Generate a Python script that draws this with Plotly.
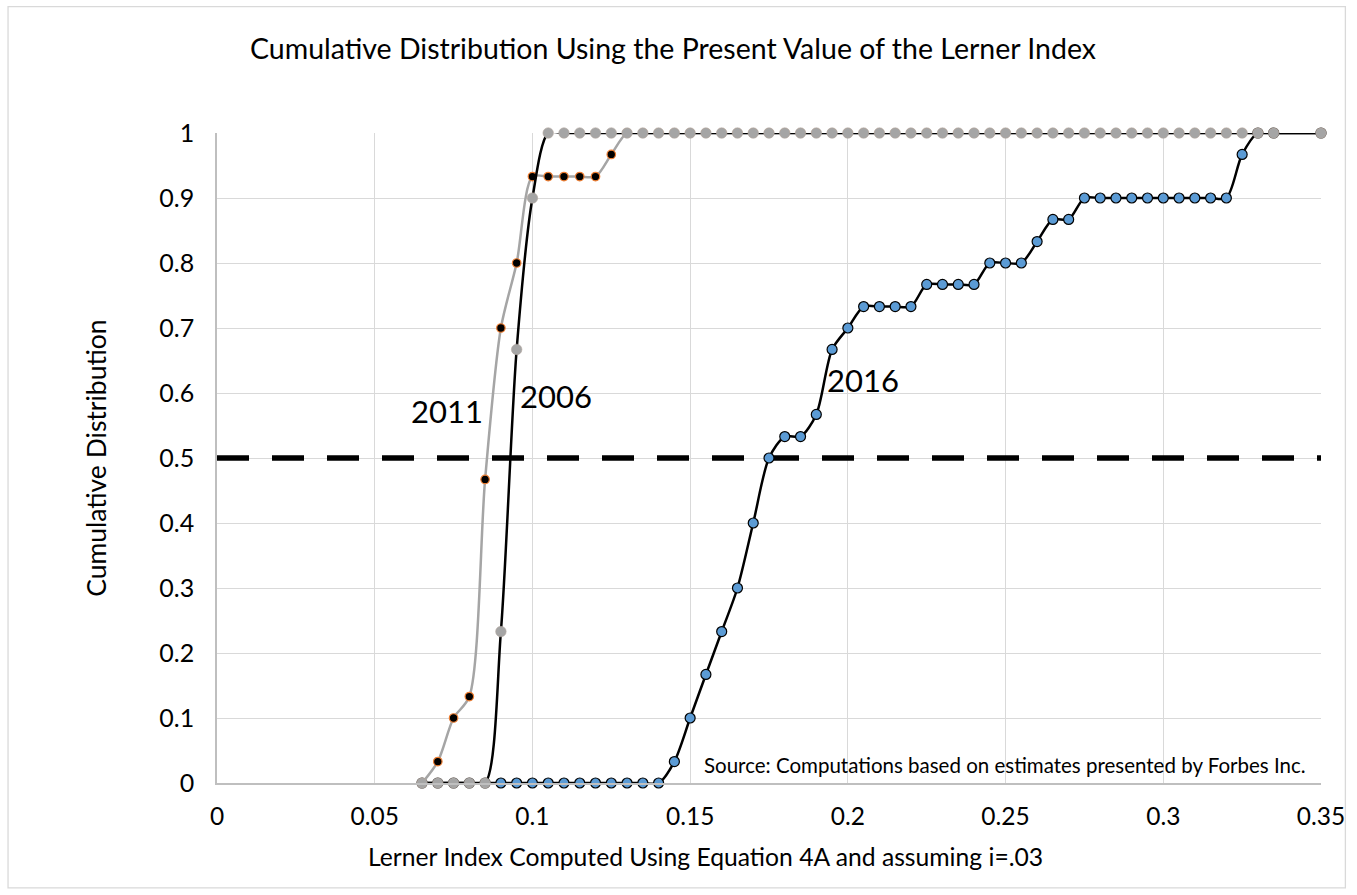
import plotly.graph_objects as go

# ---------------- data ----------------
x_2006 = [0.065, 0.07, 0.075, 0.08, 0.085, 0.09, 0.095, 0.1, 0.105, 0.11, 0.115, 0.12, 0.125,
          0.13, 0.135, 0.14, 0.145, 0.15, 0.155, 0.16, 0.165, 0.17, 0.175, 0.18, 0.185, 0.19,
          0.195, 0.2, 0.205, 0.21, 0.215, 0.22, 0.225, 0.23, 0.235, 0.24, 0.245, 0.25, 0.255,
          0.26, 0.265, 0.27, 0.275, 0.28, 0.285, 0.29, 0.295, 0.3, 0.305, 0.31, 0.315, 0.32,
          0.325, 0.33, 0.335, 0.35]
y_2006 = [0, 0, 0, 0, 0, 0.233, 0.667, 0.9] + [1] * 48

x_2011 = [0.065, 0.07, 0.075, 0.08, 0.085, 0.09, 0.095, 0.1, 0.105, 0.11, 0.115, 0.12, 0.125,
          0.13, 0.135, 0.14, 0.145, 0.15, 0.155, 0.16, 0.165, 0.17, 0.175, 0.18, 0.185, 0.19,
          0.195, 0.2, 0.205, 0.21, 0.215, 0.22, 0.225, 0.23, 0.235, 0.24, 0.245, 0.25, 0.255,
          0.26, 0.265, 0.27, 0.275, 0.28, 0.285, 0.29, 0.295, 0.3, 0.305, 0.31, 0.315, 0.32,
          0.325, 0.33, 0.335, 0.35]
y_2011 = [0, 0.033, 0.1, 0.133, 0.467, 0.7, 0.8, 0.933, 0.933, 0.933, 0.933, 0.933, 0.967] + [1] * 43

x_2016 = [0.065, 0.07, 0.075, 0.08, 0.085, 0.09, 0.095, 0.1, 0.105, 0.11, 0.115, 0.12, 0.125,
          0.13, 0.135, 0.14, 0.145, 0.15, 0.155, 0.16, 0.165, 0.17, 0.175, 0.18, 0.185, 0.19,
          0.195, 0.2, 0.205, 0.21, 0.215, 0.22, 0.225, 0.23, 0.235, 0.24, 0.245, 0.25, 0.255,
          0.26, 0.265, 0.27, 0.275, 0.28, 0.285, 0.29, 0.295, 0.3, 0.305, 0.31, 0.315, 0.32,
          0.325, 0.33, 0.335, 0.35]
y_2016 = ([0] * 16 +
          [0.033, 0.1, 0.167, 0.233, 0.3, 0.4, 0.5, 0.533, 0.533, 0.567, 0.667, 0.7,
           0.733, 0.733, 0.733, 0.733, 0.767, 0.767, 0.767, 0.767, 0.8, 0.8, 0.8,
           0.833, 0.867, 0.867,
           0.9, 0.9, 0.9, 0.9, 0.9, 0.9, 0.9, 0.9, 0.9, 0.9,
           0.967, 1, 1, 1])

x_median = [0, 0.35]
y_median = [0.5, 0.5]

x_ticks = [0, 0.05, 0.1, 0.15, 0.2, 0.25, 0.3, 0.35]
x_tick_labels = ["0", "0.05", "0.1", "0.15", "0.2", "0.25", "0.3", "0.35"]
y_ticks = [0, 0.1, 0.2, 0.3, 0.4, 0.5, 0.6, 0.7, 0.8, 0.9, 1]
y_tick_labels = ["0", "0.1", "0.2", "0.3", "0.4", "0.5", "0.6", "0.7", "0.8", "0.9", "1"]

title_text = "Cumulative Distribution Using the Present Value of the Lerner Index"
x_title = "Lerner Index Computed Using Equation 4A and assuming i=.03"
y_title = "Cumulative Distribution"
source_text = "Source: Computations based on estimates presented by Forbes Inc."

# ---------------- layout geometry (pixels) ----------------
W, H = 1357, 895
PL, PR, PT, PB = 216.5, 1326.0, 133.0, 783.5
FONT = "Lato"


def px(xp):
    return (xp - PL) / (PR - PL)


def py(yp):
    return (PB - yp) / (PB - PT)


fig = go.Figure()

fig.add_trace(go.Scatter(
    x=x_median, y=y_median, mode="lines",
    line=dict(color="black", width=5.5, dash="32px,23px"),
    hoverinfo="skip", showlegend=False))

fig.add_trace(go.Scatter(
    x=x_2016, y=y_2016, mode="lines+markers", name="2016",
    line=dict(color="black", width=2.5, shape="spline", smoothing=0.8),
    marker=dict(color="#5B9BD5", size=10, line=dict(color="black", width=1.2)),
    cliponaxis=False, showlegend=False))

fig.add_trace(go.Scatter(
    x=x_2011, y=y_2011, mode="lines+markers", name="2011",
    line=dict(color="#A5A5A5", width=2.5, shape="spline", smoothing=0.8),
    marker=dict(color="black", size=8.5, line=dict(color="#ED7D31", width=1.2)),
    cliponaxis=False, showlegend=False))

fig.add_trace(go.Scatter(
    x=x_2006, y=y_2006, mode="lines+markers", name="2006",
    line=dict(color="black", width=2.5, shape="spline", smoothing=0.8),
    marker=dict(color="#A5A5A5", size=10.5, line=dict(color="#B3A79F", width=0.6)),
    cliponaxis=False, showlegend=False))

fig.update_layout(
    width=W, height=H,
    margin=dict(l=PL, r=W - PR, t=PT, b=H - PB, pad=0),
    paper_bgcolor="white", plot_bgcolor="white",
    font=dict(family=FONT, color="black"),
    showlegend=False,
    xaxis=dict(range=[0, 0.35], tickvals=x_ticks, ticktext=x_tick_labels,
               showgrid=True, gridcolor="#D9D9D9", gridwidth=1.3,
               showline=True, linecolor="#BFBFBF", linewidth=1.6,
               zeroline=False, ticks="", ticklabelstandoff=11,
               tickfont=dict(family=FONT, size=24.5, color="black")),
    yaxis=dict(range=[0, 1], tickvals=y_ticks, ticktext=y_tick_labels,
               showgrid=True, gridcolor="#D9D9D9", gridwidth=1.3,
               showline=True, linecolor="#BFBFBF", linewidth=1.6,
               zeroline=False, ticks="", ticklabelstandoff=16,
               tickfont=dict(family=FONT, size=25, color="black")),
)

annotations = [
    dict(text=title_text, x=px(675), y=py(48), size=28.5),
    dict(text=x_title, x=px(707), y=py(857), size=24.7),
    dict(text=y_title, x=px(95), y=py(459), size=26.5, angle=-90),
    dict(text="2011", x=px(448), y=py(411), size=31),
    dict(text="2006", x=px(557), y=py(396), size=31),
    dict(text="2016", x=px(866), y=py(380), size=31),
    dict(text=source_text, x=px(1008), y=py(765), size=20.5),
]
for a in annotations:
    fig.add_annotation(
        text=a["text"], xref="paper", yref="paper", x=a["x"], y=a["y"],
        xanchor="center", yanchor="middle", showarrow=False,
        textangle=a.get("angle", 0),
        font=dict(family=FONT, size=a["size"], color="black"))

# outer chart border
fig.add_shape(type="rect", xref="paper", yref="paper",
              x0=px(6.5), x1=px(1350.5), y0=py(888.5), y1=py(6.5),
              line=dict(color="#D9D9D9", width=1.3), fillcolor="rgba(0,0,0,0)", layer="below")

fig.write_html("out.html", config={"displayModeBar": False},
               post_script="document.body.style.margin='0';")
